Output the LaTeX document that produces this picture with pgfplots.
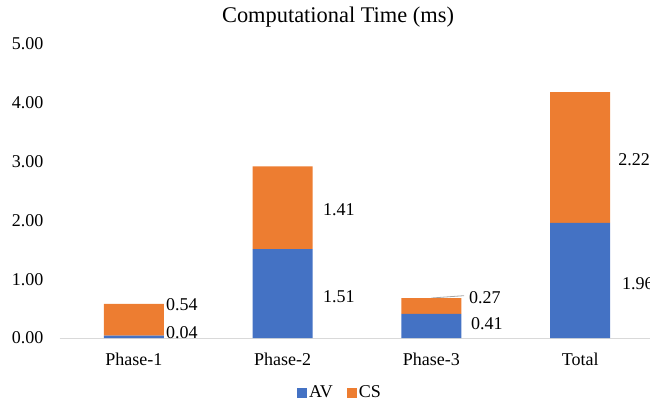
\documentclass[border=0pt]{standalone}
\usepackage{fontspec}
\setmainfont{Liberation Serif}
\usepackage{pgfplots}
\pgfplotsset{compat=1.18}
\definecolor{avblue}{HTML}{4472C4}
\definecolor{csorange}{HTML}{ED7D31}
\definecolor{axisgray}{HTML}{D9D9D9}
\definecolor{leadgray}{HTML}{A6A6A6}

\begin{document}
\fontsize{18}{21}\selectfont
\begin{tikzpicture}
\useasboundingbox (0,0) rectangle (650pt,408pt);
\node[font=\fontsize{22.4}{26}\selectfont] at (338pt,391pt) {Computational Time (ms)};
\begin{axis}[
    at={(59.5pt,70pt)}, anchor=south west,
    scale only axis, width=595pt, height=294pt,
    ybar stacked, bar width=60pt,
    xmin=-0.5, xmax=3.5, ymin=0, ymax=5,
    xtick={0,1,2,3},
    xticklabels={Phase-1,Phase-2,Phase-3,Total},
    ytick={0,1,2,3,4,5},
    yticklabel style={/pgf/number format/fixed, /pgf/number format/fixed zerofill,
        /pgf/number format/precision=2, /pgf/number format/assume math mode=true,
        xshift=-10pt},
    xticklabel style={yshift=-9pt},
    axis x line*=bottom, axis y line*=left,
    x axis line style={draw=axisgray, line width=1pt},
    y axis line style={draw=none},
    major tick length=0pt,
    clip=false,
    legend image code/.code={\fill[#1] (0pt,-5pt) rectangle (10pt,5pt);},
    legend style={draw=none, legend columns=2, anchor=center,
        at={(axis description cs:0.4714,-0.187)},
        nodes={inner xsep=2pt},
        /tikz/every even column/.append style={column sep=12pt}},
]
    % AV
    \addplot[fill=avblue, draw=none]
        coordinates {(0,0.04) (1,1.51) (2,0.41) (3,1.96)};
    % CS
    \addplot[fill=csorange, draw=none]
        coordinates {(0,0.54) (1,1.41) (2,0.27) (3,2.22)};
    \legend{AV,CS}

    % value labels
    \draw[leadgray, line width=0.8pt] (axis cs:2.0,0.68) -- (axis cs:2.22,0.72);
    \node[anchor=west, inner sep=0pt] at (axis cs:0.216,0.561) {0.54};
    \node[anchor=west, inner sep=0pt] at (axis cs:0.216,0.085) {0.04};
    \node[anchor=west, inner sep=0pt] at (axis cs:1.271,2.177) {1.41};
    \node[anchor=west, inner sep=0pt] at (axis cs:1.271,0.697) {1.51};
    \node[anchor=west, inner sep=0pt] at (axis cs:2.253,0.68) {0.27};
    \node[anchor=west, inner sep=0pt] at (axis cs:2.266,0.238) {0.41};
    \node[anchor=west, inner sep=0pt] at (axis cs:3.255,3.027) {2.22};
    \node[anchor=west, inner sep=0pt] at (axis cs:3.281,0.918) {1.96};
\end{axis}
\end{tikzpicture}
\end{document}
